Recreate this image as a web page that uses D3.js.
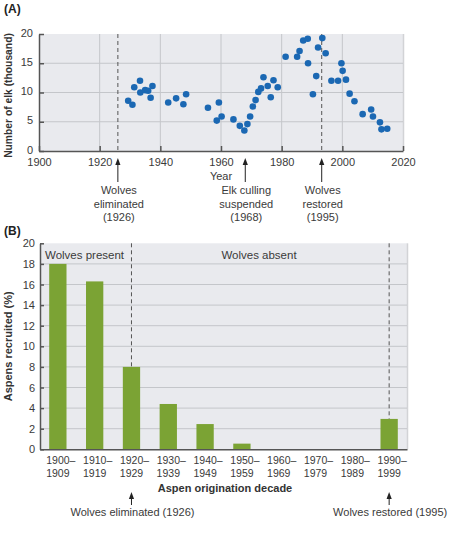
<!DOCTYPE html>
<html>
<head>
<meta charset="utf-8">
<script src="https://cdn.jsdelivr.net/npm/d3@7"></script>
<style>
  body { margin: 0; background: #fff; }
  svg { font-family: "Liberation Sans", Arial, sans-serif; }
  .tick text { fill: #3a3a3a; }
</style>
</head>
<body>
<svg id="chart" width="465" height="542"></svg>
<script>
// ---- panel A data: elk counts (thousand) ----
var elkYears = [1929.4, 1930.8, 1931.4, 1933.3, 1933.4, 1935.0, 1936.0, 1936.8, 1937.4,
	1942.6, 1945.2, 1947.6, 1948.5, 1955.7, 1959.3, 1958.6, 1960.2, 1964.1, 1966.2,
	1967.7, 1968.7, 1969.6, 1970.5, 1971.4, 1972.3, 1973.2, 1974.0, 1975.4, 1976.4,
	1977.3, 1978.7, 1981.3, 1985.1, 1985.9, 1987.1, 1988.6, 1988.7, 1990.3, 1991.4,
	1992.0, 1993.4, 1994.5, 1996.4, 1998.6, 1999.7, 2000.1, 2001.2, 2002.4, 2004.0,
	2006.7, 2009.5, 2010.1, 2012.4, 2012.9, 2014.8];
var elkValues = [8.6, 7.9, 10.9, 12.0, 10.0, 10.4, 10.3, 9.1, 11.1,
	8.3, 9.0, 8.0, 9.7, 7.4, 8.3, 5.2, 5.9, 5.4, 4.3,
	3.5, 4.6, 5.9, 7.6, 8.7, 10.1, 10.7, 12.6, 11.1, 9.2,
	12.1, 10.9, 16.1, 16.1, 17.1, 18.9, 19.2, 15.0, 9.7, 12.8,
	17.7, 19.3, 16.7, 12.0, 12.0, 15.0, 13.7, 12.2, 9.8, 8.5,
	6.3, 7.1, 5.9, 4.9, 3.7, 3.8];
var yearTicks = [1900, 1920, 1940, 1960, 1980, 2000, 2020];
var elkTicks = [0, 5, 10, 15, 20];
// where the figure places its markers on the year axis
var dashedYearsA = [1926, 1993.2];
var eventYears = [1926, 1968, 1993.2];
var eventLabels = [["Wolves", "eliminated", "(1926)"],
	["Elk culling", "suspended", "(1968)"],
	["Wolves", "restored", "(1995)"]];

// ---- panel B data: aspen recruitment ----
var decadeStart = ["1900", "1910", "1920", "1930", "1940", "1950", "1960", "1970", "1980", "1990"];
var decadeEnd = ["1909", "1919", "1929", "1939", "1949", "1959", "1969", "1979", "1989", "1999"];
var aspenValues = [18.0, 16.3, 8.0, 4.4, 2.45, 0.55, 0, 0, 0, 2.95];
var aspenTicks = [0, 2, 4, 6, 8, 10, 12, 14, 16, 18, 20];
var dashedDecadesB = ["1920", "1990"];
var arrowLabelsB = ["Wolves eliminated (1926)", "Wolves restored (1995)"];

var svg = d3.select("#chart");
var axisColor = "#555",
	gridColor = "#c4c6ca",
	plotBg = "#e9eaee",
	textColor = "#3a3a3a";

function arrowUp(g, x, yTip, yEnd) {
	g.append("line")
		.attr("x1", x).attr("x2", x)
		.attr("y1", yTip + 5).attr("y2", yEnd)
		.attr("stroke", "#222").attr("stroke-width", 1);
	g.append("path")
		.attr("d", "M" + x + "," + yTip + "L" + (x - 2.6) + "," + (yTip + 7) + "L" + (x + 2.6) + "," + (yTip + 7) + "Z")
		.attr("fill", "#222");
}

// ================= Panel A =================
var ax = d3.scaleLinear().domain([1900, 2020]).range([39, 403]);
var ay = d3.scaleLinear().domain([0, 20]).range([151, 34]);

var gA = svg.append("g");

gA.append("text")
	.attr("x", 4).attr("y", 13)
	.attr("font-size", 12).attr("font-weight", "bold")
	.attr("fill", "#222")
	.text("(A)");

gA.append("rect")
	.attr("x", ax(1900)).attr("y", ay(20))
	.attr("width", ax(2020) - ax(1900)).attr("height", ay(0) - ay(20))
	.attr("fill", plotBg);
gA.append("line")
	.attr("x1", ax(2020) + 0.5).attr("x2", ax(2020) + 0.5)
	.attr("y1", ay(20)).attr("y2", ay(0))
	.attr("stroke", "#d2d3d6").attr("stroke-width", 1.5);

// grid
gA.append("g").selectAll("line")
	.data(yearTicks.slice(1, -1))
	.enter().append("line")
		.attr("x1", function(d) { return ax(d); })
		.attr("x2", function(d) { return ax(d); })
		.attr("y1", ay(20)).attr("y2", ay(0))
		.attr("stroke", gridColor);
gA.append("g").selectAll("line")
	.data(elkTicks.slice(1, -1))
	.enter().append("line")
		.attr("x1", ax(1900)).attr("x2", ax(2020))
		.attr("y1", function(d) { return ay(d); })
		.attr("y2", function(d) { return ay(d); })
		.attr("stroke", gridColor);

// dashed event lines
gA.append("g").selectAll("line")
	.data(dashedYearsA)
	.enter().append("line")
		.attr("x1", function(d) { return ax(d); })
		.attr("x2", function(d) { return ax(d); })
		.attr("y1", ay(20)).attr("y2", ay(0))
		.attr("stroke", axisColor).attr("stroke-width", 1)
		.attr("stroke-dasharray", "4,3");

// axes
var axA = gA.append("g")
	.attr("transform", "translate(0," + ay(0) + ")")
	.call(d3.axisBottom(ax).tickValues(yearTicks).tickFormat(d3.format("d")).tickSizeInner(-5).tickSizeOuter(0).tickPadding(7));
var ayA = gA.append("g")
	.attr("transform", "translate(" + ax(1900) + ",0)")
	.call(d3.axisLeft(ay).tickValues(elkTicks).tickSizeInner(-5).tickSizeOuter(0).tickPadding(6));
[axA, ayA].forEach(function(a) {
	a.select(".domain").attr("stroke", axisColor).attr("stroke-width", 1.5);
	a.selectAll(".tick line").attr("stroke", axisColor).attr("stroke-width", 1.5);
	a.selectAll(".tick text").attr("font-size", 11).attr("font-family", "Liberation Sans, Arial, sans-serif");
});
axA.selectAll(".tick text").attr("dy", "0.71em");
ayA.selectAll(".tick text").attr("dy", "0.2em");

// dots
gA.append("g").selectAll("circle")
	.data(elkYears.map(function(y, i) { return {year: y, value: elkValues[i]}; }))
	.enter().append("circle")
		.attr("cx", function(d) { return ax(d.year); })
		.attr("cy", function(d) { return ay(d.value); })
		.attr("r", 3.3)
		.attr("fill", "#1b68b3");

gA.append("text")
	.attr("x", ax(1960)).attr("y", 179.5)
	.attr("text-anchor", "middle").attr("font-size", 11).attr("fill", textColor)
	.text("Year");

gA.append("text")
	.attr("transform", "translate(12," + ((ay(0) + ay(20)) / 2 + 3) + ") rotate(-90)")
	.attr("text-anchor", "middle").attr("font-size", 10.3).attr("font-weight", "bold").attr("fill", "#333")
	.text("Number of elk (thousand)");

// event arrows and labels
eventYears.forEach(function(yr, i) {
	var x = ax(yr);
	arrowUp(gA, x, 158, 182);
	gA.append("text")
		.attr("x", x + 1).attr("y", 194)
		.attr("text-anchor", "middle").attr("font-size", 11).attr("fill", textColor)
		.selectAll("tspan")
		.data(eventLabels[i])
		.enter().append("tspan")
			.attr("x", x + 1)
			.attr("dy", function(d, j) { return j === 0 ? 0 : 13.7; })
			.text(function(d) { return d; });
});

// ================= Panel B =================
var bx = d3.scaleBand().domain(decadeStart).range([40, 407]).paddingInner(0.53).paddingOuter(0.25);
var by = d3.scaleLinear().domain([0, 20]).range([449.3, 243.3]);

var gB = svg.append("g");

gB.append("text")
	.attr("x", 4).attr("y", 235)
	.attr("font-size", 12).attr("font-weight", "bold")
	.attr("fill", "#222")
	.text("(B)");

gB.append("rect")
	.attr("x", 40).attr("y", by(20))
	.attr("width", 367).attr("height", by(0) - by(20))
	.attr("fill", plotBg);
gB.append("line")
	.attr("x1", 407.5).attr("x2", 407.5)
	.attr("y1", by(20)).attr("y2", by(0))
	.attr("stroke", "#d2d3d6").attr("stroke-width", 1.5);

gB.append("g").selectAll("line")
	.data(aspenTicks.slice(1, -1))
	.enter().append("line")
		.attr("x1", 40).attr("x2", 407)
		.attr("y1", function(d) { return by(d); })
		.attr("y2", function(d) { return by(d); })
		.attr("stroke", gridColor);

gB.append("text")
	.attr("x", 45).attr("y", 259)
	.attr("font-size", 11.5).attr("fill", textColor)
	.text("Wolves present");
gB.append("text")
	.attr("x", 259).attr("y", 259)
	.attr("text-anchor", "middle").attr("font-size", 11.5).attr("fill", textColor)
	.text("Wolves absent");

gB.append("g").selectAll("rect")
	.data(decadeStart.map(function(d, i) { return {decade: d, value: aspenValues[i]}; }))
	.enter().append("rect")
		.attr("x", function(d) { return bx(d.decade); })
		.attr("y", function(d) { return by(d.value); })
		.attr("width", bx.bandwidth())
		.attr("height", function(d) { return by(0) - by(d.value); })
		.attr("fill", "#7ba334");

gB.append("g").selectAll("line")
	.data(dashedDecadesB)
	.enter().append("line")
		.attr("x1", function(d) { return bx(d) + bx.bandwidth() / 2; })
		.attr("x2", function(d) { return bx(d) + bx.bandwidth() / 2; })
		.attr("y1", by(20))
		.attr("y2", function(d) { return by(aspenValues[decadeStart.indexOf(d)]); })
		.attr("stroke", axisColor).attr("stroke-width", 1)
		.attr("stroke-dasharray", "4,3");

var axB = gB.append("g")
	.attr("transform", "translate(0," + by(0) + ")")
	.call(d3.axisBottom(bx).tickSize(0).tickPadding(6));
axB.selectAll(".tick text").remove();
axB.selectAll(".tick").append("text")
	.attr("fill", textColor)
	.attr("text-anchor", "middle")
	.attr("font-size", 10.5)
	.selectAll("tspan")
	.data(function(d) { var i = decadeStart.indexOf(d); return [d + "\u2013", decadeEnd[i]]; })
	.enter().append("tspan")
		.attr("x", function(d, j) { return j === 0 ? 3 : 0; })
		.attr("y", function(d, j) { return 14.5 + j * 13.3; })
		.text(function(d) { return d; });

var ayB = gB.append("g")
	.attr("transform", "translate(40,0)")
	.call(d3.axisLeft(by).tickValues(aspenTicks).tickSizeInner(-4).tickSizeOuter(0).tickPadding(5));
[axB, ayB].forEach(function(a) {
	a.select(".domain").attr("stroke", axisColor).attr("stroke-width", 1.5);
	a.selectAll(".tick line").attr("stroke", axisColor).attr("stroke-width", 1.5);
});
ayB.selectAll(".tick text").attr("font-size", 11).attr("font-family", "Liberation Sans, Arial, sans-serif");

gB.append("text")
	.attr("x", 225).attr("y", 492)
	.attr("text-anchor", "middle").attr("font-size", 11).attr("font-weight", "bold").attr("fill", "#333")
	.text("Aspen origination decade");

gB.append("text")
	.attr("transform", "translate(12," + ((by(0) + by(20)) / 2) + ") rotate(-90)")
	.attr("text-anchor", "middle").attr("font-size", 11).attr("font-weight", "bold").attr("fill", "#333")
	.text("Aspens recruited (%)");

dashedDecadesB.forEach(function(d, i) {
	var x = bx(d) + bx.bandwidth() / 2;
	arrowUp(gB, x, 492, 505);
	gB.append("text")
		.attr("x", x + 1).attr("y", 516)
		.attr("text-anchor", "middle").attr("font-size", 11).attr("fill", textColor)
		.text(arrowLabelsB[i]);
});
</script>
</body>
</html>
